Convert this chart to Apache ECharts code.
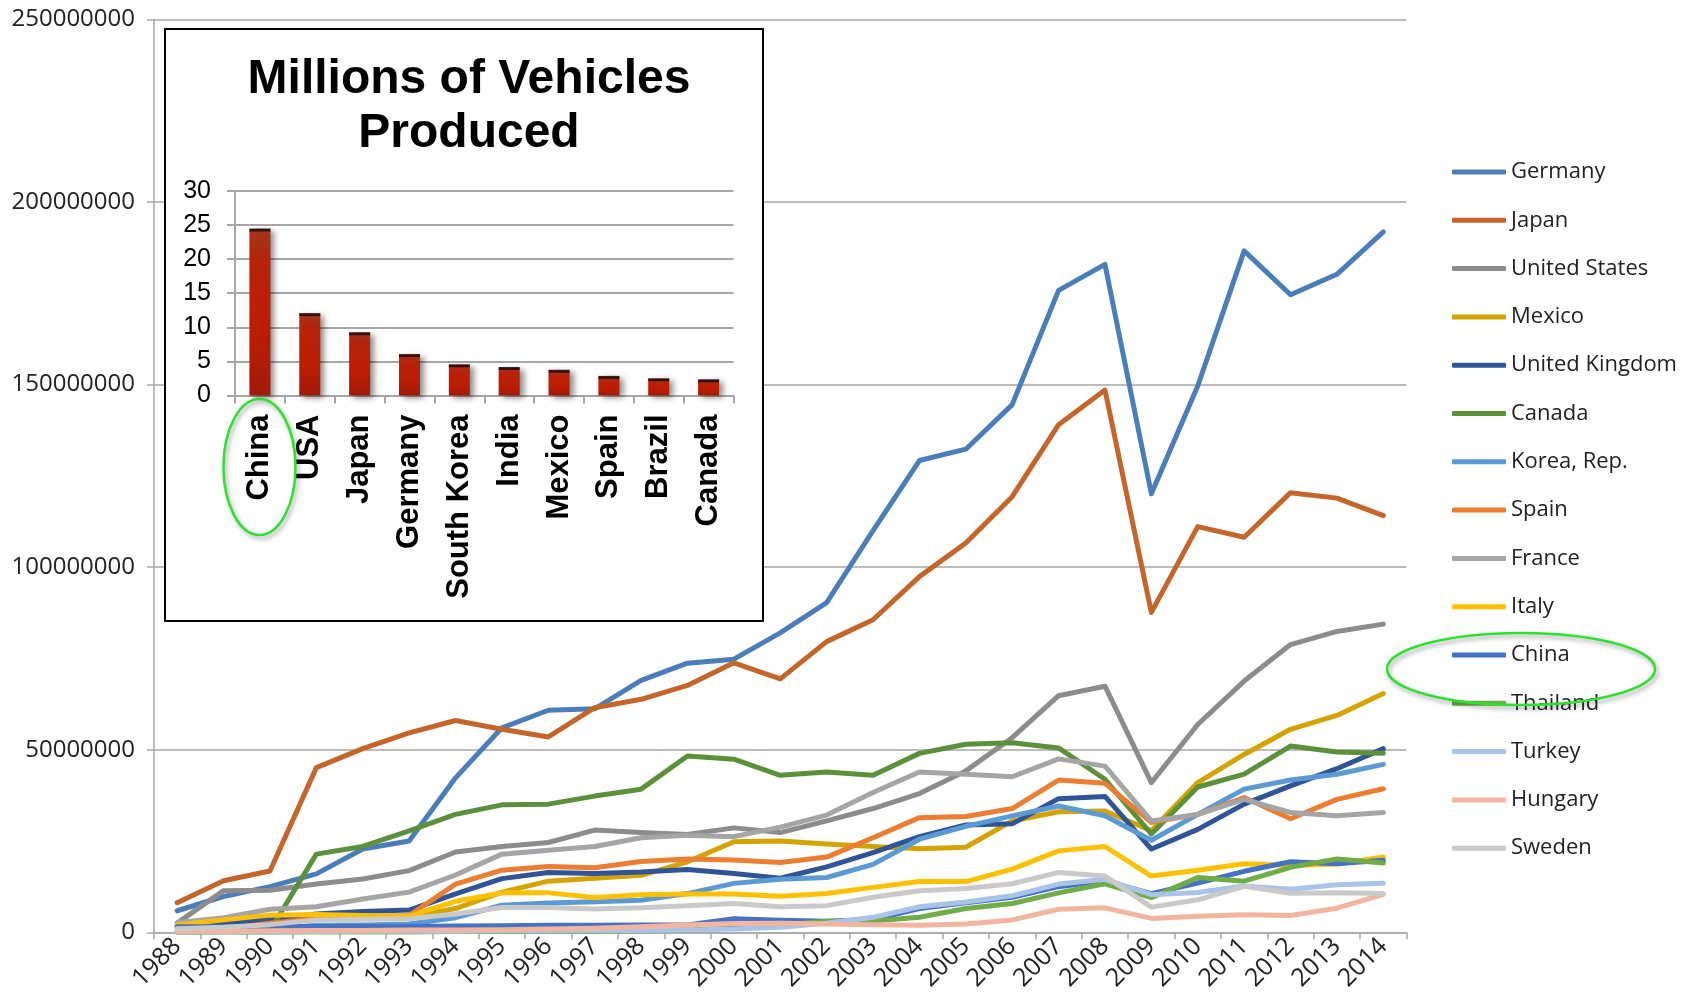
<!DOCTYPE html>
<html>
<head>
<meta charset="utf-8">
<title>Vehicles produced</title>
<script src="https://cdn.jsdelivr.net/npm/echarts@6.0.0/dist/echarts.min.js"></script>
<style>
  html, body { margin: 0; padding: 0; background: #fff; }
  #chart { width: 1690px; height: 1006px; }
</style>
</head>
<body>
<div id="chart"></div>
<script>
// years on the main axis
const years = ['1988', '1989', '1990', '1991', '1992', '1993', '1994', '1995', '1996', '1997',
  '1998', '1999', '2000', '2001', '2002', '2003', '2004', '2005', '2006', '2007',
  '2008', '2009', '2010', '2011', '2012', '2013', '2014']

// values in millions
const germany = [5.9, 9.8, 12.5, 16.0, 22.8, 25.0, 42.3, 56.0, 60.8, 61.2, 69.0, 73.7, 74.8, 82.0, 90.3, 110.0, 129.2, 132.3, 144.5, 175.8, 182.9, 120.1, 149.6, 186.6, 174.6, 180.2, 191.8]
const japan = [8.1, 14.1, 16.8, 45.1, 50.3, 54.6, 58.0, 55.6, 53.5, 61.5, 63.8, 67.6, 73.8, 69.4, 79.6, 85.6, 97.4, 106.6, 119.3, 139.0, 148.5, 87.6, 111.1, 108.2, 120.4, 118.9, 114.1]
const unitedStates = [2.5, 11.4, 11.5, 13.2, 14.6, 16.9, 22.0, 23.5, 24.6, 28.0, 27.3, 26.8, 28.6, 27.3, 30.5, 33.9, 38.0, 44.2, 53.3, 64.8, 67.4, 41.0, 56.9, 68.8, 78.8, 82.4, 84.4]
const mexico = [1.5, 2.5, 3.5, 4.0, 4.0, 4.0, 6.5, 11.0, 14.0, 14.8, 15.6, 19.3, 24.8, 25.0, 24.2, 23.5, 22.9, 23.3, 30.5, 33.0, 33.2, 27.8, 41.0, 48.7, 55.6, 59.4, 65.4]
const unitedKingdom = [1.5, 2.5, 3.5, 5.0, 5.7, 6.1, 10.5, 14.7, 16.4, 16.1, 16.5, 17.2, 16.1, 14.8, 17.9, 21.8, 26.2, 29.4, 29.7, 36.6, 37.2, 22.8, 28.2, 35.1, 40.1, 44.8, 50.3]
const canada = [0.1, 0.2, 0.5, 21.4, 23.5, 27.8, 32.3, 34.9, 35.1, 37.3, 39.2, 48.3, 47.4, 43.0, 43.9, 43.0, 49.0, 51.5, 51.9, 50.5, 41.9, 26.9, 39.8, 43.3, 51.0, 49.4, 49.0]
const korea = [0.3, 0.5, 0.9, 1.9, 2.0, 2.3, 4.0, 7.4, 8.0, 8.4, 8.8, 10.6, 13.4, 14.5, 15.0, 18.6, 25.5, 29.0, 31.9, 34.6, 31.9, 25.2, 32.3, 39.2, 41.7, 43.3, 46.0]
const spain = [0.5, 1.0, 2.5, 3.8, 4.3, 4.6, 13.2, 17.0, 18.0, 17.7, 19.4, 20.1, 19.8, 19.1, 20.6, 25.9, 31.4, 31.7, 33.9, 41.7, 40.8, 30.1, 32.3, 36.9, 31.1, 36.4, 39.3]
const france = [2.6, 4.0, 6.3, 7.0, 9.1, 11.0, 15.7, 21.4, 22.5, 23.5, 25.9, 26.6, 26.2, 28.8, 32.1, 38.3, 43.9, 43.3, 42.6, 47.5, 45.5, 30.5, 32.3, 36.4, 32.8, 31.9, 32.8]
const italy = [2.0, 3.4, 4.7, 4.9, 4.6, 4.4, 8.5, 10.8, 10.8, 9.5, 10.3, 10.5, 10.5, 9.9, 10.6, 12.3, 13.9, 13.9, 17.3, 22.3, 23.5, 15.4, 17.0, 18.8, 18.3, 18.7, 20.6]
const china = [1.5, 1.5, 1.5, 1.6, 1.6, 1.6, 1.7, 1.8, 1.9, 1.9, 2.0, 2.0, 3.7, 3.3, 3.0, 3.5, 6.5, 8.1, 9.6, 12.5, 14.1, 10.6, 13.5, 16.7, 19.3, 18.8, 19.7]
const thailand = [0, 0, 0, 0.1, 0.1, 0.1, 0.2, 0.2, 0.3, 0.3, 0.4, 0.6, 1.2, 2.0, 3.0, 3.1, 4.1, 6.5, 7.9, 10.8, 13.3, 9.5, 15.0, 14.0, 17.8, 20.1, 19.0]
const turkey = [0.1, 0.1, 0.2, 0.2, 0.3, 0.3, 0.3, 0.4, 0.4, 0.5, 0.5, 0.6, 0.9, 1.4, 2.5, 4.1, 7.0, 8.3, 10.0, 13.2, 14.5, 10.3, 10.9, 12.7, 11.8, 13.0, 13.4]
const hungary = [0.3, 0.3, 0.4, 0.5, 0.5, 0.6, 0.6, 0.7, 0.9, 1.1, 1.5, 2.0, 2.4, 2.5, 2.3, 2.1, 1.9, 2.3, 3.4, 6.3, 6.7, 3.8, 4.4, 4.8, 4.6, 6.6, 10.4]
const sweden = [1.0, 1.4, 2.1, 3.4, 3.6, 3.7, 5.0, 6.8, 6.8, 6.4, 6.7, 7.3, 7.9, 7.0, 7.3, 9.6, 11.4, 12.0, 13.3, 16.4, 15.4, 6.9, 8.9, 12.6, 10.7, 10.8, 10.6]

// inset bar chart
const insetCountries = ['China', 'USA', 'Japan', 'Germany', 'South Korea', 'India', 'Mexico', 'Spain', 'Brazil', 'Canada']
const insetValues = [24.4, 12.0, 9.2, 6.0, 4.5, 4.1, 3.7, 2.8, 2.45, 2.3]

const lines = [
  { name: 'Germany', data: germany, color: '#4A7EBB' },
  { name: 'Japan', data: japan, color: '#C5652A' },
  { name: 'United States', data: unitedStates, color: '#8C8C8C' },
  { name: 'Mexico', data: mexico, color: '#D5A300' },
  { name: 'United Kingdom', data: unitedKingdom, color: '#2F5597' },
  { name: 'Canada', data: canada, color: '#5B913B' },
  { name: 'Korea, Rep.', data: korea, color: '#5B9BD5' },
  { name: 'Spain', data: spain, color: '#ED7D31' },
  { name: 'France', data: france, color: '#A5A5A5' },
  { name: 'Italy', data: italy, color: '#FFC000' },
  { name: 'China', data: china, color: '#4472C4' },
  { name: 'Thailand', data: thailand, color: '#70AD47' },
  { name: 'Turkey', data: turkey, color: '#A9C4E8' },
  { name: 'Hungary', data: hungary, color: '#F3B5A0' },
  { name: 'Sweden', data: sweden, color: '#C9C9C9' }
]

const font = 'Open Sans'
const gridGray = '#a6a6a6'

const chart = echarts.init(document.getElementById('chart'))

const lineSeries = lines.map(item => ({
  name: item.name,
  type: 'line',
  xAxisIndex: 0,
  yAxisIndex: 0,
  data: item.data.map(v => v * 1000000),
  symbol: 'none',
  color: item.color,
  lineStyle: { width: 5, color: item.color, cap: 'round', join: 'round' },
  z: 2
}))

chart.setOption({
  animation: false,
  title: {
    text: 'Millions of Vehicles\nProduced',
    left: 464,
    top: 48,
    textAlign: 'center',
    textStyle: {
      fontFamily: 'Liberation Sans',
      fontSize: 48,
      fontWeight: 'bold',
      lineHeight: 54,
      color: '#000'
    },
    z: 8
  },
  legend: {
    data: lines.map(item => item.name),
    orient: 'vertical',
    left: 1447,
    top: 155,
    itemWidth: 54,
    itemHeight: 5,
    itemGap: 24.3,
    icon: 'roundRect',
    textStyle: { fontFamily: font, fontSize: 22, color: '#222', lineHeight: 24 }
  },
  grid: [
    { left: 154, right: 283.5, top: 19.4, bottom: 73.7 },
    { left: 235, right: 956.5, top: 190.8, bottom: 610.5 }
  ],
  xAxis: [
    {
      type: 'category',
      gridIndex: 0,
      data: years,
      boundaryGap: true,
      axisLine: { lineStyle: { color: gridGray, width: 1.5 } },
      axisTick: { show: true, length: 7, lineStyle: { color: gridGray, width: 1.5 } },
      axisLabel: { rotate: 45, interval: 0, margin: 10, fontFamily: font, fontSize: 25, color: '#222' }
    },
    {
      type: 'category',
      gridIndex: 1,
      data: insetCountries,
      z: 5,
      axisLine: { lineStyle: { color: gridGray, width: 2 } },
      axisTick: { show: true, length: 8, lineStyle: { color: gridGray, width: 2 } },
      axisLabel: {
        rotate: 90, interval: 0, margin: 19,
        fontFamily: 'Liberation Sans', fontSize: 31, fontWeight: 'bold', color: '#000'
      }
    }
  ],
  yAxis: [
    {
      type: 'value',
      gridIndex: 0,
      min: 0,
      max: 250000000,
      interval: 50000000,
      axisLine: { show: true, lineStyle: { color: gridGray, width: 1.5 } },
      axisTick: { show: true, length: 7, lineStyle: { color: gridGray, width: 1.5 } },
      splitLine: { lineStyle: { color: gridGray, width: 1.5 } },
      axisLabel: {
        margin: 19, fontFamily: font, fontSize: 24, color: '#222',
        formatter: value => String(value)
      }
    },
    {
      type: 'value',
      gridIndex: 1,
      min: 0,
      max: 30,
      interval: 5,
      z: 5,
      axisLine: { show: true, lineStyle: { color: gridGray, width: 2 } },
      axisTick: { show: true, length: 8, lineStyle: { color: gridGray, width: 2 } },
      splitLine: { lineStyle: { color: gridGray, width: 2 } },
      axisLabel: { margin: 24, fontFamily: 'Liberation Sans', fontSize: 25, color: '#000' }
    }
  ],
  series: [
    ...lineSeries,
    {
      name: 'inset',
      type: 'bar',
      xAxisIndex: 1,
      yAxisIndex: 1,
      data: insetValues,
      barWidth: 21,
      z: 6,
      itemStyle: {
        color: new echarts.graphic.LinearGradient(0, 0, 0, 1, [
          { offset: 0, color: '#a3341b' },
          { offset: 0.2, color: '#b6220a' },
          { offset: 0.6, color: '#bd1d02' },
          { offset: 1, color: '#a11a08' }
        ]),
        shadowColor: 'rgba(0, 0, 0, 0.45)',
        shadowBlur: 6,
        shadowOffsetX: 4,
        shadowOffsetY: 2
      }
    },
    {
      name: 'insetCap',
      type: 'scatter',
      xAxisIndex: 1,
      yAxisIndex: 1,
      data: insetValues,
      symbol: 'rect',
      symbolSize: [21, 3],
      symbolOffset: [0, 1],
      itemStyle: { color: '#1a0804' },
      silent: true,
      z: 7
    }
  ],
  graphic: [
    {
      type: 'rect',
      z: 1,
      silent: true,
      shape: { x: 165, y: 29, width: 598, height: 592 },
      style: { fill: '#fff', stroke: '#000', lineWidth: 2 }
    },
    {
      type: 'ellipse',
      z: 20,
      silent: true,
      shape: { cx: 259.5, cy: 467, rx: 36, ry: 68 },
      style: {
        fill: 'none', stroke: '#2fe02f', lineWidth: 2.5,
        shadowBlur: 4, shadowColor: 'rgba(0, 0, 0, 0.35)', shadowOffsetX: 2, shadowOffsetY: 3
      }
    },
    {
      type: 'ellipse',
      z: 20,
      silent: true,
      shape: { cx: 1521, cy: 669, rx: 134, ry: 36 },
      style: {
        fill: 'none', stroke: '#2fe02f', lineWidth: 2.5,
        shadowBlur: 4, shadowColor: 'rgba(0, 0, 0, 0.35)', shadowOffsetX: 2, shadowOffsetY: 3
      }
    }
  ]
})
</script>
</body>
</html>
